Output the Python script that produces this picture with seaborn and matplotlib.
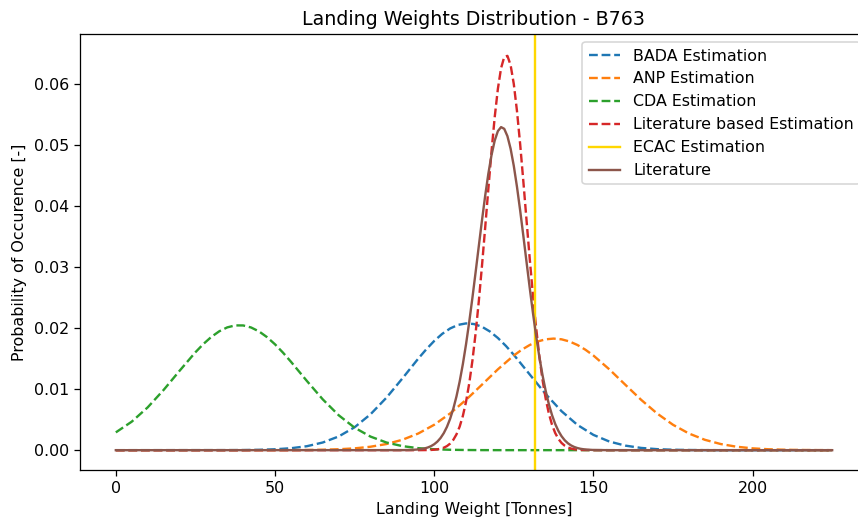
import matplotlib
matplotlib.use("Agg")
import matplotlib.pyplot as plt
import seaborn as sns

# ---- data ----
bada_x = [0, 35, 40, 45, 50, 55, 60, 65, 70, 75,
          80, 85, 90, 95, 97.5, 100, 102.5, 105, 107.5, 110,
          112.5, 115, 117.5, 120, 122.5, 125,
          130, 135, 140, 145, 150, 155, 160, 165, 170, 175,
          180, 185, 190, 225]
bada_y = [0.0, 0.00001, 0.00002, 0.00006, 0.00015, 0.00032, 0.00065, 0.00126, 0.00225, 0.00376,
          0.00589, 0.00861, 0.01176, 0.01502, 0.016539, 0.01791, 0.019070, 0.01996, 0.020548, 0.02079,
          0.020687, 0.02024, 0.019463, 0.01840, 0.017110, 0.01564,
          0.01242, 0.00921, 0.00639, 0.00414, 0.00251, 0.00142, 0.00075, 0.00037, 0.00017, 0.00007,
          0.00003, 0.00001, 0.0, 0.0]

anp_x = [0, 50, 55, 60, 65, 70, 75, 80, 85, 90,
         95, 100, 105, 110, 115, 120, 125, 127.5, 130, 132.5,
         135, 137.5, 140, 142.5, 145, 147.5, 150,
         155, 160, 165, 170, 175, 180, 185, 190,
         195, 200, 205, 210, 215, 220, 225]
anp_y = [0.0, 0.0000058, 0.0000142, 0.0000329, 0.0000726, 0.000152, 0.000300, 0.000565, 0.001007, 0.001704,
         0.002736, 0.004167, 0.006023, 0.008258, 0.010743, 0.013259, 0.015526, 0.016472, 0.017248, 0.017825,
         0.018180, 0.018300, 0.018180, 0.017825, 0.017248, 0.016472, 0.015526,
         0.013259, 0.010743, 0.008258, 0.006023, 0.004167, 0.002736, 0.001704, 0.001007,
         0.000565, 0.000300, 0.000152, 0.0000726, 0.0000329, 0.0000142, 0.0000058]

cda_x = [0, 5, 10, 15, 20, 25, 27.5, 30, 32.5, 35,
         37.5, 40, 42.5, 45, 47.5, 50, 52.5, 55, 60, 65,
         70, 75, 80, 85, 90, 95,
         100, 105, 110, 115, 120, 225]
cda_y = [0.002918, 0.004675, 0.007017, 0.009869, 0.013005, 0.016057, 0.017412, 0.018577, 0.019500, 0.020138,
         0.020462, 0.020455, 0.020118, 0.019468, 0.018534, 0.017361, 0.016000, 0.014507, 0.011358, 0.008332,
         0.005728, 0.003689, 0.002227, 0.001259, 0.000667, 0.000331,
         0.000154, 0.0000672, 0.0000274, 0.0000105, 0.000004, 0.0]

litest_x = [0, 90, 95, 98, 99,
            100, 101, 102, 103, 104, 105, 106, 107, 108, 109,
            110, 111, 112, 113, 114, 115, 116, 117, 118, 119,
            120, 121, 122, 123, 124, 125, 126, 127, 128, 129,
            130, 131, 132, 133, 134, 135, 136, 137, 138, 139,
            140, 141, 142, 143, 144, 145, 146, 147,
            150, 160, 225]
litest_y = [0.0, 0.0, 0.0000027, 0.0000217, 0.0000411,
            0.0000757, 0.000136, 0.000237, 0.000404, 0.000669, 0.001079, 0.001696, 0.002596, 0.003871, 0.005619,
            0.007945, 0.010943, 0.014671, 0.019164, 0.024377, 0.030197, 0.036432, 0.042809, 0.048990, 0.054597,
            0.059260, 0.062644, 0.064492, 0.064663, 0.063142, 0.060049, 0.055617, 0.050168, 0.044072, 0.037705,
            0.031419, 0.025496, 0.020150, 0.015509, 0.011626, 0.008488, 0.006035, 0.004179, 0.002819, 0.001851,
            0.001184, 0.000738, 0.000448, 0.000264, 0.000152, 0.0000853, 0.0000465, 0.000024,
            0.000003, 0.0, 0.0]

ecac_weight = 131.7

lit_x = [0, 90, 93, 95, 96, 97, 98, 99,
         100, 101, 102, 103, 104, 105, 106, 107, 108, 109,
         110, 111, 112, 113, 114, 115, 116, 117, 118, 119,
         120, 121, 122, 123, 124, 125, 126, 127, 128, 129,
         130, 131, 132, 133, 134, 135, 136, 137, 138, 139,
         140, 141, 142, 143, 144, 145, 146, 147, 148,
         150, 155, 225]
lit_y = [0.0, 0.0000093, 0.0000451, 0.000119, 0.000187, 0.000291, 0.000443, 0.000663,
         0.000976, 0.001409, 0.002000, 0.002789, 0.003821, 0.005143, 0.006799, 0.008828, 0.011263, 0.014115,
         0.017379, 0.021020, 0.024977, 0.029156, 0.033432, 0.037661, 0.041676, 0.045309, 0.048389, 0.050768,
         0.052326, 0.052981, 0.052699, 0.051495, 0.049432, 0.046616, 0.043185, 0.039302, 0.035138, 0.030861,
         0.026628, 0.022571, 0.018793, 0.015372, 0.012355, 0.009752, 0.007563, 0.005762, 0.004311, 0.003170,
         0.002290, 0.001625, 0.001133, 0.000776, 0.000522, 0.000345, 0.000224, 0.000143, 0.0000895,
         0.0000333, 0.0, 0.0]

# ---- figure ----
DPI = 114
W, H = 858, 520
fig = plt.figure(figsize=(W / DPI, H / DPI), dpi=DPI)
left, right, top, bottom = 80, 868, 34.3, 470
ax = fig.add_axes([left / W, 1 - bottom / H, (right - left) / W, (bottom - top) / H])

sns.lineplot(x=bada_x, y=bada_y, ax=ax, color="#1f77b4", linestyle="--", label="BADA Estimation")
sns.lineplot(x=anp_x, y=anp_y, ax=ax, color="#ff7f0e", linestyle="--", label="ANP Estimation")
sns.lineplot(x=cda_x, y=cda_y, ax=ax, color="#2ca02c", linestyle="--", label="CDA Estimation")
sns.lineplot(x=litest_x, y=litest_y, ax=ax, color="#d62728", linestyle="--",
             label="Literature based Estimation")
ax.axvline(ecac_weight, color="gold", linewidth=1.5, label="ECAC Estimation")
sns.lineplot(x=lit_x, y=lit_y, ax=ax, color="#8c564b", linestyle="-", label="Literature")

ax.set_xlim(-11.25, 236.25)
ax.set_ylim(-0.00325, 0.0682)
ax.set_title("Landing Weights Distribution - B763", fontsize=12)
ax.set_xlabel("Landing Weight [Tonnes]", fontsize=10)
ax.set_ylabel("Probability of Occurence [-]", fontsize=10)
ax.tick_params(labelsize=10)

handles, labels = ax.get_legend_handles_labels()
ax.legend(handles, labels, loc="upper right", fontsize=10)

fig.savefig("out.png", dpi=DPI)
